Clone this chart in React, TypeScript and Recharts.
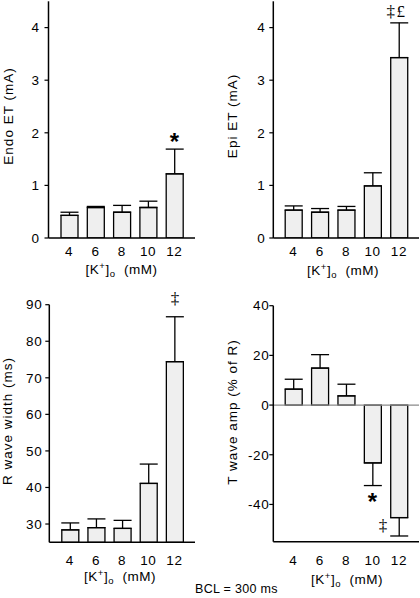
import React from "react";
import {
  BarChart,
  Bar,
  XAxis,
  YAxis,
  ErrorBar,
  ReferenceLine,
  ReferenceDot,
} from "recharts";

const categories = ["4", "6", "8", "10", "12"];

const endoMean = [0.43, 0.58, 0.49, 0.58, 1.22];
const endoSem = [0.06, 0.02, 0.13, 0.12, 0.47];
const endoMarks = ["", "", "", "", "*"];
const endoTicks = [0, 1, 2, 3, 4];

const epiMean = [0.53, 0.49, 0.53, 0.99, 3.43];
const epiSem = [0.08, 0.07, 0.07, 0.25, 0.66];
const epiMarks = ["", "", "", "", "‡£"];
const epiTicks = [0, 1, 2, 3, 4];

const rMean = [28.4, 29.0, 28.8, 41.1, 74.4];
const rSem = [1.9, 2.4, 2.2, 5.3, 12.3];
const rMarks = ["", "", "", "", "‡"];
const rTicks = [30, 40, 50, 60, 70, 80, 90];

const tMean = [6.4, 14.9, 3.7, -23.3, -45.3];
const tSem = [4.0, 5.4, 4.7, 9.1, 7.4];
const tMarks = ["", "", "", "*", "‡"];
const tTicks = [-40, -20, 0, 20, 40];

const SANS = '"Liberation Sans", Arial, sans-serif';
const SERIF = '"Liberation Serif", "Times New Roman", serif';

type Row = { k: string; v: number; e: [number, number]; end: number };

function rows(means: number[], sems: number[]): Row[] {
  return categories.map((k, i) => {
    const neg = means[i] < 0;
    return {
      k,
      v: means[i],
      e: neg ? [sems[i], 0] : [0, sems[i]],
      end: neg ? means[i] - sems[i] : means[i] + sems[i],
    };
  });
}

function markFont(text: string) {
  if (text === "*") return { fontFamily: SANS, fontWeight: 700, fontSize: 24 };
  return { fontFamily: SERIF, fontWeight: 400, fontSize: 17 };
}

const tickStyle = { fill: "#000", fontSize: 13.5, fontFamily: SANS, letterSpacing: 0.6 };

type PanelProps = {
  left: number;
  top: number;
  height: number;
  margin: { top: number; right: number; bottom: number; left: number };
  data: Row[];
  domain: [number, number];
  ticks: number[];
  marks: string[];
  markOffsets: [number, number][];
  title: string;
  titlePos: [number, number];
  xLabelPos: [number, number];
  yTickSize: number;
  yTickMargin: number;
  xTickMargin: number;
  pad: number;
  zeroLine?: boolean;
};

function Panel(p: PanelProps) {
  return (
    <div style={{ position: "absolute", left: p.left, top: p.top }}>
      <BarChart width={210} height={p.height} data={p.data} margin={p.margin}>
        <XAxis
          dataKey="k"
          axisLine={{ stroke: "#000", strokeWidth: 1.5 }}
          tickLine={false}
          tickSize={0}
          tickMargin={p.xTickMargin}
          height={30}
          padding={{ left: p.pad, right: p.pad }}
          tick={tickStyle}
          interval={0}
          label={() => (
            <text
              x={p.xLabelPos[0]}
              y={p.xLabelPos[1]}
              textAnchor="middle"
              fontSize={13.5}
              fontFamily={SANS}
              letterSpacing={0.5}
              fill="#000"
            >
              [K
              <tspan dy={-5} fontSize={9.5}>
                +
              </tspan>
              <tspan dy={5}>]</tspan>
              <tspan dy={3} fontSize={9.5}>
                o
              </tspan>
              <tspan dy={-3}>{"\u00a0\u00a0(mM)"}</tspan>
            </text>
          )}
        />
        <YAxis
          width={40}
          domain={p.domain}
          ticks={p.ticks}
          allowDataOverflow
          axisLine={{ stroke: "#000", strokeWidth: 1.5 }}
          tickLine={{ stroke: "#000", strokeWidth: 1.2 }}
          tickSize={p.yTickSize}
          tickMargin={p.yTickMargin}
          tick={tickStyle}
          label={() => (
            <text
              x={p.titlePos[0]}
              y={p.titlePos[1]}
              transform={`rotate(-90, ${p.titlePos[0]}, ${p.titlePos[1]})`}
              textAnchor="middle"
              dominantBaseline="central"
              fontSize={13.5}
              fontFamily={SANS}
              letterSpacing={1}
              fill="#000"
            >
              {p.title}
            </text>
          )}
        />
        {p.zeroLine && <ReferenceLine y={0} stroke="#8a8a8a" strokeWidth={1.2} />}
        <Bar
          dataKey="v"
          fill="#efefef"
          stroke="#000"
          strokeWidth={1.3}
          barSize={17}
          isAnimationActive={false}
        >
          <ErrorBar
            dataKey="e"
            width={9}
            stroke="#000"
            strokeWidth={1.3}
            direction="y"
            isAnimationActive={false}
          />
        </Bar>
        {p.data.map((d, i) =>
          p.marks[i] ? (
            <ReferenceDot
              key={i}
              x={d.k}
              y={d.end}
              r={0}
              fill="none"
              stroke="none"
              ifOverflow="visible"
              label={(lp: any) => {
                const vb = lp.viewBox || {};
                const f = markFont(p.marks[i]);
                return (
                  <text
                    x={(vb.x ?? 0) + (vb.width ?? 0) / 2 + p.markOffsets[i][0]}
                    y={(vb.y ?? 0) + (vb.height ?? 0) / 2 + p.markOffsets[i][1]}
                    textAnchor="middle"
                    fill="#000"
                    letterSpacing={p.marks[i].length > 1 ? 1.5 : 0}
                    {...f}
                  >
                    {p.marks[i]}
                  </text>
                );
              }}
            />
          ) : null
        )}
      </BarChart>
    </div>
  );
}

export default function App() {
  return (
    <div
      style={{
        position: "absolute",
        left: 0,
        top: 0,
        width: 420,
        height: 598,
        background: "#fff",
        overflow: "hidden",
      }}
    >
      <Panel
        left={0}
        top={0}
        height={280}
        margin={{ top: 1.3, right: 15, bottom: 12, left: 8.5 }}
        data={rows(endoMean, endoSem)}
        domain={[0, 4.5]}
        ticks={endoTicks}
        marks={endoMarks}
        markOffsets={[[0, 0], [0, 0], [0, 0], [0, 0], [0, 1]]}
        title="Endo ET (mA)"
        titlePos={[8, 116]}
        xLabelPos={[121.5, 274]}
        yTickSize={4}
        yTickMargin={5}
        xTickMargin={8}
        pad={7.5}
      />
      <Panel
        left={210}
        top={0}
        height={280}
        margin={{ top: 1.3, right: 1, bottom: 12, left: 23.3 }}
        data={rows(epiMean, epiSem)}
        domain={[0, 4.5]}
        ticks={epiTicks}
        marks={epiMarks}
        markOffsets={[[0, 0], [0, 0], [0, 0], [0, 0], [-2.5, -6]]}
        title="Epi ET (mA)"
        titlePos={[22.5, 116]}
        xLabelPos={[133, 275]}
        yTickSize={4}
        yTickMargin={4}
        xTickMargin={8}
        pad={6.9}
      />
      <Panel
        left={0}
        top={280}
        height={318}
        margin={{ top: 24.7, right: 15, bottom: 25.7, left: 9.3 }}
        data={rows(rMean, rSem)}
        domain={[25, 90]}
        ticks={rTicks}
        marks={rMarks}
        markOffsets={[[0, 0], [0, 0], [0, 0], [0, 0], [0.5, -13]]}
        title="R wave width (ms)"
        titlePos={[7.5, 141]}
        xLabelPos={[120, 301]}
        yTickSize={4}
        yTickMargin={3}
        xTickMargin={13}
        pad={7.5}
      />
      <Panel
        left={210}
        top={280}
        height={318}
        margin={{ top: 25.7, right: 1, bottom: 26.3, left: 23.3 }}
        data={rows(tMean, tSem)}
        domain={[-55, 40]}
        ticks={tTicks}
        marks={tMarks}
        markOffsets={[[0, 0], [0, 0], [0, 0], [0, 24], [-16, -4.5]]}
        title="T wave amp (% of R)"
        titlePos={[22.5, 132]}
        xLabelPos={[137, 304]}
        yTickSize={4}
        yTickMargin={0}
        xTickMargin={13.5}
        pad={6.9}
        zeroLine
      />
      <svg
        width={420}
        height={598}
        style={{ position: "absolute", left: 0, top: 0, pointerEvents: "none" }}
      >
        <text x={195} y={593} fontSize={12.5} fontFamily={SANS} letterSpacing={0.3} fill="#000">
          BCL = 300 ms
        </text>
      </svg>
    </div>
  );
}
